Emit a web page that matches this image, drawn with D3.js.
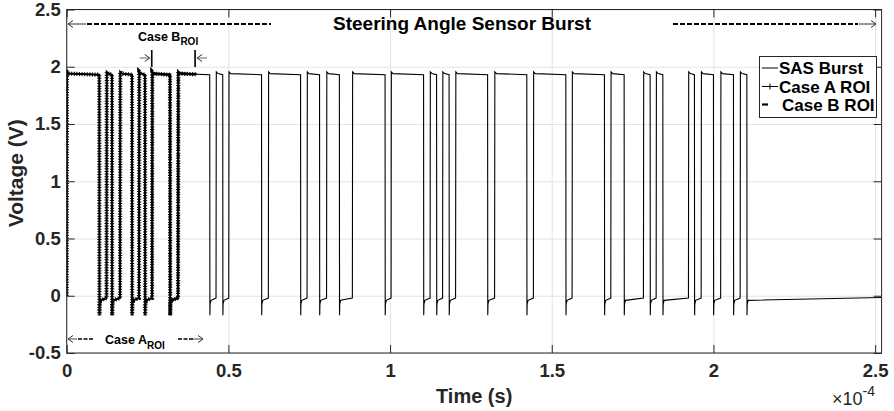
<!DOCTYPE html>
<html>
<head>
<meta charset="utf-8">
<script src="https://cdn.jsdelivr.net/npm/d3@7"></script>
<style>
  html, body { margin: 0; padding: 0; background: #fff; }
  svg { display: block; font-family: "Liberation Sans", Arial, Helvetica, sans-serif; }
</style>
</head>
<body>
<svg id="chart" width="894" height="411"></svg>
<script>
// ---------------- data (time in microseconds, voltage in volts) ----------------
const riseTimesUs = [0, 12.31, 16.49, 22.36, 26.38, 34.43, 46.18, 50.11, 62.36, 74.33, 80.36,
  88.34, 100.31, 112.37, 116.24, 120.26, 132.32, 144.32, 156.29, 168.26, 178.35, 182.28,
  192.27, 196.20, 202.23, 208.26];
const fallTimesUs = [10.08, 14.01, 20.20, 24.22, 31.95, 44.23, 48.25, 60.25, 72.32, 78.19,
  84.32, 98.45, 110.36, 114.38, 118.25, 130.16, 142.28, 154.35, 166.29, 172.38, 180.42,
  184.35, 194.12, 200.00, 206.19, 210.33];
const initialV = 0.0;
const highStartV = 1.955;
const highSettleV = 1.94;
const highEndV = 1.93;
const undershootV = -0.17;
const recoverV = -0.07;
const lowStartV = -0.04;
const lowEndV = -0.02;
const finalV = -0.015;
const endTimeUs = 252;
const caseARoiUs = [0, 40.2];
const caseBRoiUs = [26.3, 39.7];
const xTickValuesUs = [0, 50, 100, 150, 200, 250];
const xTickLabels = ["0", "0.5", "1", "1.5", "2", "2.5"];
const yTickValues = [-0.5, 0, 0.5, 1, 1.5, 2, 2.5];
const yTickLabels = ["-0.5", "0", "0.5", "1", "1.5", "2", "2.5"];
const legendLabels = ["SAS Burst", "Case A ROI", "Case B ROI"];

// ---------------- waveform vertices built from edges & levels ----------------
const wave = [[0, initialV]];
riseTimesUs.forEach((r, i) => {
  if (i > 0) wave.push([r, lowEndV]);
  wave.push([r + 0.08, highStartV]);
  wave.push([r + 0.6, highSettleV]);
  const f = fallTimesUs[i];
  wave.push([f, highEndV]);
  wave.push([f + 0.05, undershootV]);
  wave.push([f + 0.12, recoverV]);
  wave.push([f + 0.4, lowStartV]);
});
wave.push([endTimeUs, finalV]);

// ---------------- layout ----------------
const L = 66.7, R = 881.6, T = 9.5, B = 353;
const svg = d3.select("#chart");
const x = d3.scaleLinear().domain([0, endTimeUs]).range([L, R]);
const y = d3.scaleLinear().domain([-0.5, 2.5]).range([B, T]);
const axisColor = "#262626";
const gridColor = "#e3e3e3";
const tickFont = "bold 18.5px 'Liberation Sans', Arial, sans-serif";

// grid
svg.append("g").attr("transform", `translate(0,${B})`)
  .call(d3.axisBottom(x).tickValues(xTickValuesUs).tickSize(-(B - T)).tickFormat(""))
  .call(g => { g.select(".domain").remove(); g.selectAll("line").attr("stroke", gridColor); });
svg.append("g").attr("transform", `translate(${L},0)`)
  .call(d3.axisLeft(y).tickValues(yTickValues).tickSize(-(R - L)).tickFormat(""))
  .call(g => { g.select(".domain").remove(); g.selectAll("line").attr("stroke", gridColor); });

// clip paths
const defs = svg.append("defs");
defs.append("clipPath").attr("id", "plotClip").append("rect")
  .attr("x", L).attr("y", T).attr("width", R - L).attr("height", B - T);
defs.append("clipPath").attr("id", "clipA").append("rect")
  .attr("x", x(caseARoiUs[0]) - 3).attr("y", T).attr("width", x(caseARoiUs[1]) - x(caseARoiUs[0]) + 3).attr("height", B - T);
defs.append("clipPath").attr("id", "clipB").append("rect")
  .attr("x", x(caseBRoiUs[0])).attr("y", T).attr("width", x(caseBRoiUs[1]) - x(caseBRoiUs[0])).attr("height", B - T);

const line = d3.line().x(d => x(d[0])).y(d => y(d[1]));

const plot = svg.append("g").attr("clip-path", "url(#plotClip)");
// SAS burst
plot.append("path").datum(wave).attr("d", line)
  .attr("fill", "none").attr("stroke", "#000").attr("stroke-width", 1.1).attr("stroke-linejoin", "miter");
// Case A ROI (line with + markers)
const gA = plot.append("g").attr("clip-path", "url(#clipA)");
gA.append("path").datum(wave).attr("d", line)
  .attr("fill", "none").attr("stroke", "#000").attr("stroke-width", 2);
gA.append("path").datum(wave).attr("d", line)
  .attr("fill", "none").attr("stroke", "#000").attr("stroke-width", 4.2)
  .attr("stroke-dasharray", "1 1.6");
// Case B ROI
const gB = plot.append("g").attr("clip-path", "url(#clipB)");
gB.append("path").datum(wave).attr("d", line)
  .attr("fill", "none").attr("stroke", "#000").attr("stroke-width", 2.6)
  .attr("stroke-dasharray", "6 1.5");

// axes ticks (inward) + labels
svg.append("g").attr("transform", `translate(0,${B})`)
  .call(d3.axisBottom(x).tickValues(xTickValuesUs).tickSizeInner(-8).tickSizeOuter(0).tickPadding(11)
    .tickFormat((d, i) => xTickLabels[i]))
  .call(g => {
    g.select(".domain").remove();
    g.selectAll("line").attr("stroke", axisColor);
    g.selectAll("text").attr("fill", axisColor).style("font", tickFont);
  });
svg.append("g").attr("transform", `translate(0,${T})`)
  .call(d3.axisTop(x).tickValues(xTickValuesUs).tickSizeInner(-8).tickSizeOuter(0).tickFormat(""))
  .call(g => { g.select(".domain").remove(); g.selectAll("line").attr("stroke", axisColor); });
svg.append("g").attr("transform", `translate(${L},0)`)
  .call(d3.axisLeft(y).tickValues(yTickValues).tickSizeInner(-8).tickSizeOuter(0).tickPadding(6)
    .tickFormat((d, i) => yTickLabels[i]))
  .call(g => {
    g.select(".domain").remove();
    g.selectAll("line").attr("stroke", axisColor);
    g.selectAll("text").attr("fill", axisColor).style("font", tickFont);
  });
svg.append("g").attr("transform", `translate(${R},0)`)
  .call(d3.axisRight(y).tickValues(yTickValues).tickSizeInner(-8).tickSizeOuter(0).tickFormat(""))
  .call(g => { g.select(".domain").remove(); g.selectAll("line").attr("stroke", axisColor); });

// box
svg.append("rect").attr("x", L).attr("y", T).attr("width", R - L).attr("height", B - T)
  .attr("fill", "none").attr("stroke", axisColor).attr("stroke-width", 1);

// axis titles
svg.append("text").attr("x", (L + R) / 2).attr("y", 403).attr("text-anchor", "middle")
  .attr("fill", axisColor).style("font", "bold 20px 'Liberation Sans', Arial, sans-serif").text("Time (s)");
svg.append("text").attr("transform", `translate(23,${(T + B) / 2 - 8}) rotate(-90)`).attr("text-anchor", "middle")
  .attr("fill", axisColor).style("font", "bold 21px 'Liberation Sans', Arial, sans-serif").text("Voltage (V)");
const exp = svg.append("text").attr("x", 832).attr("y", 405).attr("fill", axisColor)
  .style("font", "18px 'Liberation Sans', Arial, sans-serif");
exp.append("tspan").text("×10");
exp.append("tspan").attr("dy", -9).style("font-size", "14px").text("-4");

// ---------------- annotations ----------------
const ann = svg.append("g");
function arrowHead(g, xt, yt, dir) {
  g.append("path").attr("d", `M${xt - dir * 5},${yt - 3.5} L${xt},${yt} L${xt - dir * 5},${yt + 3.5}`)
    .attr("fill", "none").attr("stroke", "#333").attr("stroke-width", 1);
}
// top burst arrows
ann.append("line").attr("x1", 68).attr("x2", 86).attr("y1", 24).attr("y2", 24).attr("stroke", "#333").attr("stroke-width", 1);
arrowHead(ann, 68, 24, -1);
ann.append("line").attr("x1", 87).attr("x2", 271).attr("y1", 24).attr("y2", 24)
  .attr("stroke", "#000").attr("stroke-width", 2.2).attr("stroke-dasharray", "5 2");
ann.append("line").attr("x1", 673).attr("x2", 858).attr("y1", 24).attr("y2", 24)
  .attr("stroke", "#000").attr("stroke-width", 2.2).attr("stroke-dasharray", "5 2");
ann.append("line").attr("x1", 859).attr("x2", 876).attr("y1", 24).attr("y2", 24).attr("stroke", "#333").attr("stroke-width", 1);
arrowHead(ann, 876, 24, 1);
ann.append("text").attr("x", 462).attr("y", 30).attr("text-anchor", "middle").attr("fill", "#000")
  .style("font", "bold 19px 'Liberation Sans', Arial, sans-serif").text("Steering Angle Sensor Burst");

// Case B ROI label
const tB = ann.append("text").attr("x", 138).attr("y", 41).attr("fill", "#000")
  .style("font", "bold 12.5px 'Liberation Sans', Arial, sans-serif");
tB.append("tspan").text("Case B");
tB.append("tspan").attr("dy", 4).style("font-size", "10px").text("ROI");
const xb0 = x(caseBRoiUs[0]), xb1 = x(caseBRoiUs[1]);
ann.append("line").attr("x1", xb0).attr("x2", xb0).attr("y1", 50).attr("y2", 67).attr("stroke", "#000").attr("stroke-width", 1.6);
ann.append("line").attr("x1", xb1).attr("x2", xb1).attr("y1", 50).attr("y2", 67).attr("stroke", "#000").attr("stroke-width", 1.6);
ann.append("line").attr("x1", xb0 - 12).attr("x2", xb0 - 2).attr("y1", 58).attr("y2", 58).attr("stroke", "#555").attr("stroke-width", 0.9);
arrowHead(ann, xb0 - 2, 58, 1);
ann.append("line").attr("x1", xb1 + 2).attr("x2", xb1 + 12).attr("y1", 58).attr("y2", 58).attr("stroke", "#555").attr("stroke-width", 0.9);
arrowHead(ann, xb1 + 2, 58, -1);

// Case A ROI label
ann.append("line").attr("x1", 68).attr("x2", 77).attr("y1", 339).attr("y2", 339).attr("stroke", "#333").attr("stroke-width", 0.9);
arrowHead(ann, 68, 339, -1);
ann.append("line").attr("x1", 78).attr("x2", 94).attr("y1", 339).attr("y2", 339)
  .attr("stroke", "#000").attr("stroke-width", 1.6).attr("stroke-dasharray", "4 1.5");
const tA = ann.append("text").attr("x", 105).attr("y", 344).attr("fill", "#000")
  .style("font", "bold 12.5px 'Liberation Sans', Arial, sans-serif");
tA.append("tspan").text("Case A");
tA.append("tspan").attr("dy", 5).style("font-size", "10px").text("ROI");
ann.append("line").attr("x1", 178).attr("x2", 193).attr("y1", 339).attr("y2", 339)
  .attr("stroke", "#000").attr("stroke-width", 1.6).attr("stroke-dasharray", "4 1.5");
ann.append("line").attr("x1", 193).attr("x2", 203).attr("y1", 339).attr("y2", 339).attr("stroke", "#333").attr("stroke-width", 0.9);
arrowHead(ann, 203, 339, 1);

// ---------------- legend ----------------
const lg = svg.append("g");
lg.append("rect").attr("x", 759.5).attr("y", 56.5).attr("width", 117).attr("height", 61)
  .attr("fill", "#fff").attr("stroke", axisColor).attr("stroke-width", 1);
const rowY = [68, 86.5, 104.5];
const rowTextX = [779, 779, 782];
legendLabels.forEach((lab, i) => {
  lg.append("text").attr("x", rowTextX[i]).attr("y", rowY[i] + 6).attr("fill", "#000")
    .style("font", "bold 17px 'Liberation Sans', Arial, sans-serif").text(lab);
});
lg.append("line").attr("x1", 762).attr("x2", 778).attr("y1", rowY[0]).attr("y2", rowY[0]).attr("stroke", "#000").attr("stroke-width", 1);
lg.append("line").attr("x1", 762).attr("x2", 778).attr("y1", rowY[1]).attr("y2", rowY[1]).attr("stroke", "#000").attr("stroke-width", 1);
lg.append("path").attr("d", `M${770 - 3},${rowY[1]} h6 M770,${rowY[1] - 3} v6`).attr("stroke", "#000").attr("stroke-width", 1);
lg.append("line").attr("x1", 762).attr("x2", 768).attr("y1", rowY[2]).attr("y2", rowY[2]).attr("stroke", "#000").attr("stroke-width", 2.2);
</script>
</body>
</html>
